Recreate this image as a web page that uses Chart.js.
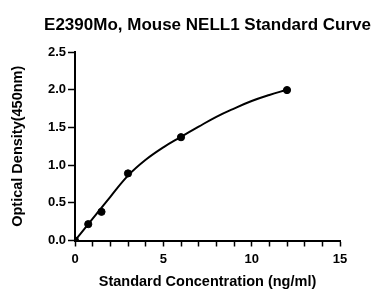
<!DOCTYPE html>
<html>
<head>
<meta charset="utf-8">
<script src="https://cdn.jsdelivr.net/npm/chart.js@4"></script>
<style>
  html, body { margin: 0; padding: 0; background: #fff; }
  #wrap { width: 375px; height: 289px; }
</style>
</head>
<body>
<div id="wrap"><canvas id="c" width="375" height="289"></canvas></div>
<script>
const titleText = 'E2390Mo, Mouse NELL1 Standard Curve';
const xTitle = 'Standard Concentration (ng/ml)';
const yTitle = 'Optical Density(450nm)';

// measured standards
const concentrations = [0, 0.75, 1.5, 3, 6, 12];
const odValues = [0.0, 0.217, 0.38, 0.89, 1.37, 1.995];

// fitted curve
const curveX = [0, 1, 2, 3, 4, 5, 6, 7, 8, 9, 10, 11, 12];
const curveY = [0, 0.29, 0.58, 0.86, 1.07, 1.235, 1.375, 1.51, 1.64, 1.75, 1.85, 1.93, 2.0];

const xTicks = [0, 5, 10, 15];
const yTicks = [0, 0.5, 1.0, 1.5, 2.0, 2.5];

const font = "'Liberation Sans', Arial, Helvetica, sans-serif";

// title centred over the plot area (not squeezed to its width)
const plotTitle = {
  id: 'plotTitle',
  afterDraw(chart) {
    const { ctx, chartArea } = chart;
    ctx.save();
    ctx.font = 'bold 17px ' + font;
    ctx.fillStyle = '#000';
    ctx.textAlign = 'center';
    ctx.textBaseline = 'alphabetic';
    ctx.fillText(titleText, (chartArea.left + chartArea.right) / 2, 30);
    ctx.restore();
  }
};

new Chart(document.getElementById('c'), {
  type: 'scatter',
  data: {
    datasets: [
      {
        type: 'line',
        data: curveX.map((x, i) => ({ x: x, y: curveY[i] })),
        borderColor: '#000',
        borderWidth: 2,
        pointRadius: 0,
        fill: false,
        tension: 0.4,
        order: 2
      },
      {
        data: concentrations.map((x, i) => ({ x: x, y: odValues[i] })),
        backgroundColor: '#000',
        borderColor: '#000',
        pointRadius: 3.6,
        pointHoverRadius: 3.6,
        order: 1
      }
    ]
  },
  options: {
    responsive: false,
    animation: false,
    events: [],
    layout: { padding: { left: 0, right: 35, top: 52, bottom: 0 } },
    plugins: {
      legend: { display: false },
      tooltip: { enabled: false },
      title: { display: false }
    },
    scales: {
      x: {
        type: 'linear',
        min: 0, max: 15,
        afterFit: s => { s.height = 48.5; },
        border: { color: '#000', width: 2 },
        grid: { drawOnChartArea: false, drawTicks: true, tickLength: 6, tickColor: '#000', tickWidth: 1.5 },
        ticks: {
          stepSize: 1,
          autoSkip: false,
          maxRotation: 0,
          color: '#000',
          padding: 5,
          font: { family: font, size: 13, weight: 'bold' },
          callback: v => xTicks.includes(v) ? String(v) : ''
        },
        title: {
          display: true,
          text: xTitle,
          color: '#000',
          font: { family: font, size: 14.5, weight: 'bold', lineHeight: 1 },
          padding: { top: 0, bottom: 0 }
        }
      },
      y: {
        type: 'linear',
        min: 0, max: 2.5,
        afterFit: s => { s.width = 75; },
        border: { color: '#000', width: 2 },
        grid: { drawOnChartArea: false, drawTicks: true, tickLength: 7, tickColor: '#000', tickWidth: 1.5 },
        ticks: {
          stepSize: 0.5,
          color: '#000',
          padding: 2,
          font: { family: font, size: 13, weight: 'bold' },
          callback: v => yTicks.some(t => Math.abs(t - v) < 1e-9) ? Number(v).toFixed(1) : ''
        },
        title: {
          display: true,
          text: yTitle,
          color: '#000',
          font: { family: font, size: 14.5, weight: 'bold', lineHeight: 1 },
          padding: { top: 11, bottom: 0 }
        }
      }
    }
  },
  plugins: [plotTitle]
});
</script>
</body>
</html>
